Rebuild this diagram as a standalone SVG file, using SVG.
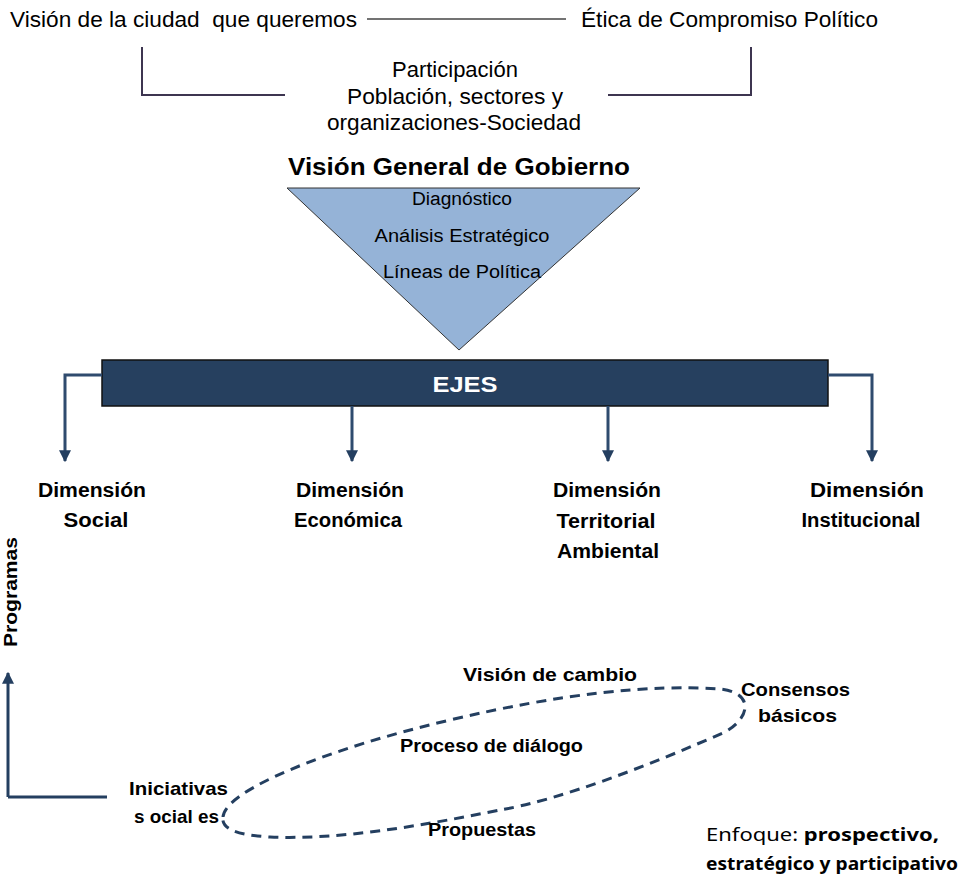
<svg xmlns="http://www.w3.org/2000/svg" width="959" height="882" viewBox="0 0 959 882">
<style>
  .t { font-family: "Liberation Sans", Arial, sans-serif; fill: #000; }
  .top { font-size: 22px; }
  .b { font-weight: bold; }
  .dim { font-size: 20px; font-weight: bold; text-anchor: middle; }
  .el { font-size: 19px; font-weight: bold; }
  .tri { font-size: 18px; text-anchor: middle; }
  .arr { fill: none; stroke: #2f4b6e; stroke-width: 3; }
  .brk { fill: none; stroke: #3d3550; stroke-width: 2; }
</style>
<defs>
  <marker id="ah" viewBox="0 0 10 10" refX="9" refY="5" markerWidth="4" markerHeight="4" orient="auto" markerUnits="strokeWidth">
    <path d="M0,0 L10,5 L0,10 Z" fill="#243f60"/>
  </marker>
</defs>
<rect width="959" height="882" fill="#fff"/>

<g id="vision-ciudad"><text class="t top" x="10" y="27" textLength="347" lengthAdjust="spacingAndGlyphs" xml:space="preserve">Visión de la ciudad  que queremos</text></g>
<g id="etica"><text class="t top" x="581" y="27" textLength="297" lengthAdjust="spacingAndGlyphs">Ética de Compromiso Político</text></g>
<g id="participacion">
  <text class="t top" x="455" y="77" text-anchor="middle">Participación</text>
  <text class="t top" x="455" y="104" text-anchor="middle" textLength="216" lengthAdjust="spacingAndGlyphs">Población, sectores y</text>
  <text class="t top" x="454" y="130" text-anchor="middle" textLength="254" lengthAdjust="spacingAndGlyphs">organizaciones-Sociedad</text>
</g>

<g id="vision-general">
  <text class="t b" x="459" y="175" font-size="23" text-anchor="middle" textLength="342" lengthAdjust="spacingAndGlyphs">Visión General de Gobierno</text>
  <polygon points="287,188 640,188 459,350" fill="#95b3d7" stroke="#333" stroke-width="1"/>
  <text class="t tri" x="462" y="205" textLength="100" lengthAdjust="spacingAndGlyphs">Diagnóstico</text>
  <text class="t tri" x="462" y="242" textLength="175" lengthAdjust="spacingAndGlyphs">Análisis Estratégico</text>
  <text class="t tri" x="462" y="278" textLength="158" lengthAdjust="spacingAndGlyphs">Líneas de Política</text>
</g>

<g id="ejes">
  <rect x="102" y="360" width="726" height="46" fill="#26405f" stroke="#111" stroke-width="1.5"/>
  <text class="t b" x="465" y="392" font-size="22" style="fill:#fff" text-anchor="middle" textLength="65" lengthAdjust="spacingAndGlyphs">EJES</text>
</g>

<g id="connectors">
  <line x1="8" y1="797" x2="107" y2="797" stroke="#243f60" stroke-width="3"/>
  <line x1="8" y1="797" x2="8" y2="673" stroke="#243f60" stroke-width="3" marker-end="url(#ah)"/>
  <line x1="367" y1="19" x2="566" y2="19" stroke="#444" stroke-width="1.5"/>
  <polyline class="brk" points="142,47 142,95 285,95"/>
  <polyline class="brk" points="751,47 751,95 608,95"/>
  <polyline class="arr" points="102,375 65,375 65,461" marker-end="url(#ah)"/>
  <polyline class="arr" points="828,375 872,375 872,461" marker-end="url(#ah)"/>
  <line class="arr" x1="352" y1="406" x2="352" y2="461" marker-end="url(#ah)"/>
  <line class="arr" x1="608" y1="406" x2="608" y2="461" marker-end="url(#ah)"/>
  <path d="M223,817 C225,790 330,748 450,720 C560,694 650,684 720,689 C755,693 750,718 725,732 C650,765 560,800 500,810 C420,826 340,840 270,837 C235,835 221,828 223,817 Z" fill="none" stroke="#243f60" stroke-width="3" stroke-dasharray="10 7"/>
</g>

<g id="dim-social">
  <text class="t dim" x="92" y="497" textLength="108" lengthAdjust="spacingAndGlyphs">Dimensión</text>
  <text class="t dim" x="96" y="527" textLength="65" lengthAdjust="spacingAndGlyphs">Social</text>
</g>
<g id="dim-economica">
  <text class="t dim" x="350" y="497" textLength="108" lengthAdjust="spacingAndGlyphs">Dimensión</text>
  <text class="t dim" x="348" y="527" textLength="108" lengthAdjust="spacingAndGlyphs">Económica</text>
</g>
<g id="dim-territorial">
  <text class="t dim" x="607" y="497" textLength="108" lengthAdjust="spacingAndGlyphs">Dimensión</text>
  <text class="t dim" x="606" y="528" textLength="99" lengthAdjust="spacingAndGlyphs">Territorial</text>
  <text class="t dim" x="608" y="558" textLength="102" lengthAdjust="spacingAndGlyphs">Ambiental</text>
</g>
<g id="dim-institucional">
  <text class="t dim" x="867" y="497" textLength="114" lengthAdjust="spacingAndGlyphs">Dimensión</text>
  <text class="t dim" x="861" y="527" textLength="119" lengthAdjust="spacingAndGlyphs">Institucional</text>
</g>

<g id="programas">
  <text class="t b" font-size="19" text-anchor="middle" transform="translate(17,592) rotate(-90)" textLength="110" lengthAdjust="spacingAndGlyphs">Programas</text>
</g>

<g id="vision-cambio"><text class="t el" x="463" y="681" textLength="174" lengthAdjust="spacingAndGlyphs">Visión de cambio</text></g>
<g id="consensos">
  <text class="t el" x="741" y="696" textLength="109" lengthAdjust="spacingAndGlyphs">Consensos</text>
  <text class="t el" x="758" y="722" textLength="79" lengthAdjust="spacingAndGlyphs">básicos</text>
</g>
<g id="proceso"><text class="t el" x="400" y="752" textLength="183" lengthAdjust="spacingAndGlyphs">Proceso de diálogo</text></g>
<g id="iniciativas">
  <text class="t el" x="129" y="795" textLength="99" lengthAdjust="spacingAndGlyphs">Iniciativas</text>
  <text class="t el" x="134" y="823" textLength="85" lengthAdjust="spacingAndGlyphs">s ocial es</text>
</g>
<g id="propuestas"><text class="t el" x="428" y="836" textLength="108" lengthAdjust="spacingAndGlyphs">Propuestas</text></g>

<g id="enfoque">
  <text x="706" y="841" font-family="'Noto Sans', 'DejaVu Sans', sans-serif" font-size="18" textLength="233" lengthAdjust="spacingAndGlyphs">Enfoque: <tspan font-weight="bold">prospectivo,</tspan></text>
  <text x="706" y="870" font-family="'Noto Sans', 'DejaVu Sans', sans-serif" font-size="18" font-weight="bold" textLength="252" lengthAdjust="spacingAndGlyphs">estratégico y participativo</text>
</g>
</svg>
